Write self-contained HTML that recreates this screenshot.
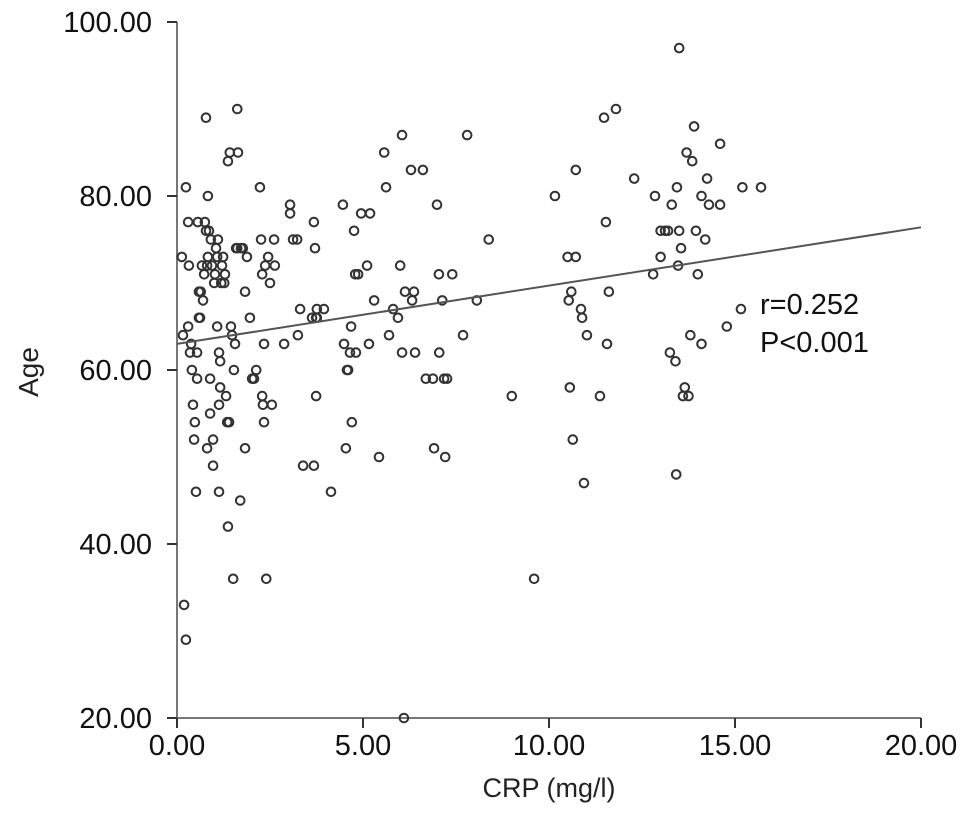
<!DOCTYPE html>
<html><head><meta charset="utf-8"><style>
body{margin:0;background:#fff}
svg{display:block;font-family:"Liberation Sans",Arial,sans-serif}
</style></head><body>
<svg id="chart" width="969" height="834" viewBox="0 0 969 834" xmlns="http://www.w3.org/2000/svg">
<g id="axes"></g><g id="pts"></g>
</svg>
<script>
const xTicks=[0,5,10,15,20];
const xTickLabels=["0.00","5.00","10.00","15.00","20.00"];
const yTicks=[20,40,60,80,100];
const yTickLabels=["20.00","40.00","60.00","80.00","100.00"];
const crpValues=[0.13,0.16,0.19,0.24,0.24,0.3,0.3,0.32,0.35,0.38,0.4,0.43,0.46,0.48,0.51,0.54,0.54,0.56,0.59,0.59,0.62,0.64,0.67,0.7,0.73,0.75,0.78,0.78,0.81,0.81,0.83,0.83,0.86,0.89,0.89,0.91,0.94,0.97,0.97,1.0,1.02,1.05,1.08,1.08,1.1,1.13,1.13,1.13,1.16,1.16,1.19,1.21,1.24,1.27,1.29,1.32,1.35,1.37,1.37,1.4,1.42,1.45,1.48,1.51,1.53,1.56,1.59,1.62,1.64,1.7,1.72,1.77,1.83,1.83,1.88,1.96,2.02,2.07,2.13,2.23,2.26,2.29,2.29,2.31,2.34,2.34,2.37,2.45,2.5,2.55,2.61,2.63,2.4,1.62,
2.88,3.04,3.04,3.12,3.23,3.25,3.31,3.39,3.63,3.68,3.74,3.68,3.71,3.76,3.74,3.76,3.95,4.14,4.46,4.49,4.54,4.57,4.6,4.65,4.68,4.7,4.76,4.79,4.81,4.87,4.95,5.19,5.11,5.16,5.3,5.43,5.57,5.62,5.7,5.81,5.94,6.05,6.0,6.05,6.1,6.13,6.32,6.29,6.37,6.4,6.61,6.69,6.88,6.91,6.99,7.04,7.05,7.13,7.18,7.21,7.26,7.4,7.69,7.8,8.06,8.38,9.0,9.6,10.16,10.5,10.53,10.56,10.6,10.64,10.72,10.72,10.86,10.89,10.94,11.02,11.37,11.48,11.53,11.56,11.61,11.8,12.29,12.8,12.85,13.0,13.0,13.12,13.2,13.25,13.3,13.4,13.42,13.44,13.47,13.5,13.5,13.55,13.6,13.65,13.7,13.75,13.8,13.85,13.9,13.95,14.0,14.1,14.1,14.2,14.25,14.3,14.6,14.6,14.78,15.2,15.16,15.7];
const ageValues=[73,64,33,29,81,77,65,72,62,63,60,56,52,54,46,59,62,77,69,66,66,69,72,68,71,77,89,76,72,51,80,73,76,59,55,75,72,49,52,70,71,74,65,73,75,46,56,62,61,58,70,72,73,70,71,57,54,42,84,54,85,65,64,36,60,63,74,74,85,45,74,74,69,51,73,66,59,59,60,81,75,71,57,56,54,63,72,73,70,56,75,72,36,90,
63,79,78,75,75,64,67,49,66,49,66,77,74,66,57,67,67,46,79,63,51,60,60,62,65,54,76,71,62,71,78,78,72,63,68,50,85,81,64,67,66,87,72,62,20,69,68,83,69,62,83,59,59,51,79,71,62,68,59,50,59,71,64,87,68,75,57,36,80,73,68,58,69,52,83,73,67,66,47,64,57,89,77,63,69,90,82,71,80,76,73,76,76,62,79,61,48,81,72,97,76,74,57,58,85,57,64,84,88,76,71,80,63,75,82,79,86,79,65,81,67,81];
const fitLine=[63.0,76.4];
const NS="http://www.w3.org/2000/svg";
const X0=177,X1=921,Y0=718,Y1=22;
function sx(v){return X0+(v-0)/(20-0)*(X1-X0);}
function sy(v){return Y0-(v-20)/(100-20)*(Y0-Y1);}
function mk(tag,attrs,parent){const e=document.createElementNS(NS,tag);for(const k in attrs)e.setAttribute(k,attrs[k]);parent.appendChild(e);return e;}
const axes=document.getElementById('axes');
let a=mk('line',{x1:X0,y1:Y1,x2:X0,y2:Y0,stroke:'#777','stroke-width':2},axes);

a=mk('line',{x1:X0,y1:Y0,x2:X1,y2:Y0,stroke:'#777','stroke-width':2},axes);

yTicks.forEach((t,i)=>{
 const l=mk('line',{x1:X0-10,x2:X0,y1:sy(t),y2:sy(t),stroke:'#333','stroke-width':2},axes);
 
 const tx=mk('text',{x:152,y:sy(t)+10,'text-anchor':'end','font-size':29,fill:'#111'},axes);
 tx.textContent=yTickLabels[i];
 
});
xTicks.forEach((t,i)=>{
 const l=mk('line',{x1:sx(t),x2:sx(t),y1:Y0,y2:Y0+10,stroke:'#333','stroke-width':2},axes);
 
 const tx=mk('text',{x:sx(t),y:755,'text-anchor':'middle','font-size':29,fill:'#111'},axes);
 tx.textContent=xTickLabels[i];
 
});
let t=mk('text',{x:549,y:797,'text-anchor':'middle','font-size':27,fill:'#222'},axes);
t.textContent='CRP (mg/l)';

t=mk('text',{x:38,y:372,'text-anchor':'middle','font-size':28,fill:'#222',transform:'rotate(-90 38 372)'},axes);
t.textContent='Age';

t=mk('text',{x:760,y:314,'font-size':29,fill:'#111'},axes);
t.textContent='r=0.252';

t=mk('text',{x:760,y:352,'font-size':29,fill:'#111'},axes);
t.textContent='P<0.001';

const pts=document.getElementById('pts');
crpValues.forEach((x,i)=>{
 const c=mk('circle',{cx:sx(x),cy:sy(ageValues[i]),r:4.3,fill:'none',stroke:'#333','stroke-width':2},pts);
 
});
const fl=mk('line',{x1:sx(0),y1:sy(fitLine[0]),x2:sx(20),y2:sy(fitLine[1]),stroke:'#555','stroke-width':2},pts);

</script>
</body></html>
